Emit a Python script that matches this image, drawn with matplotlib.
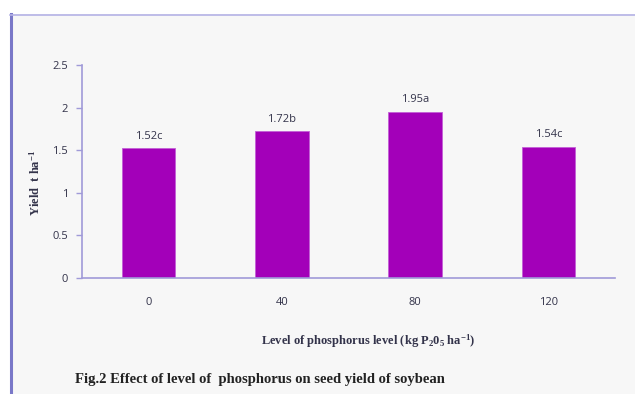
import matplotlib.pyplot as plt
from matplotlib.lines import Line2D
from matplotlib.patches import Rectangle

plt.rcParams["mathtext.fontset"] = "custom"
plt.rcParams["mathtext.rm"] = "Liberation Serif:bold"
plt.rcParams["mathtext.it"] = "Liberation Serif:bold"
plt.rcParams["mathtext.bf"] = "Liberation Serif:bold"

LEVELS = ["0", "40", "80", "120"]
YIELDS = [1.52, 1.72, 1.95, 1.54]
LETTERS = ["c", "b", "a", "c"]
Y_TICKS = [0, 0.5, 1, 1.5, 2, 2.5]
Y_TICK_LABELS = ["0", "0.5", "1", "1.5", "2", "2.5"]

W, H = 635, 394
BAR_COLOR = "#a300b9"
AXIS_COLOR = "#a09ad8"
TEXT_COLOR = "#33334a"

fig = plt.figure(figsize=(W / 100, H / 100), dpi=100)
fig.patch.set_facecolor("white")

# grey panel with purple left/top border
fig.add_artist(Rectangle((10 / W, 0), 1 - 10 / W, 1 - 14 / H,
                         transform=fig.transFigure, facecolor="#f7f7f7",
                         edgecolor="none", zorder=0))
fig.add_artist(Line2D([10.5 / W, 10.5 / W], [0, 1 - 14 / H],
                      transform=fig.transFigure, color="#7a78c8", lw=2.2))
fig.add_artist(Line2D([10 / W, 1], [1 - 14.5 / H, 1 - 14.5 / H],
                      transform=fig.transFigure, color="#b4b2e6", lw=1.2))

ax = fig.add_axes([82 / W, 1 - 278 / H, (615 - 82) / W, (278 - 65) / H])
ax.set_facecolor("none")

x = range(len(LEVELS))
bars = ax.bar(x, YIELDS, width=0.4, color=BAR_COLOR, edgecolor="#c35fd6",
              linewidth=0.6)
for bar, val, letter in zip(bars, YIELDS, LETTERS):
    ax.annotate(f"{val:.2f}{letter}",
                xy=(bar.get_x() + bar.get_width() / 2, val),
                xytext=(0, 5), textcoords="offset points",
                ha="center", va="bottom", fontsize=8,
                family="Open Sans", color=TEXT_COLOR)

ax.set_xlim(-0.5, len(LEVELS) - 0.5)
ax.set_ylim(0, 2.5)
ax.set_yticks(Y_TICKS)
ax.set_yticklabels(Y_TICK_LABELS, family="Open Sans", fontsize=8,
                   color=TEXT_COLOR)
ax.set_xticks(list(x))
ax.set_xticklabels(LEVELS, family="Open Sans", fontsize=8, color=TEXT_COLOR)
ax.tick_params(axis="x", length=0, pad=14)
ax.tick_params(axis="y", length=4, color=AXIS_COLOR, width=1, pad=6)

for side in ["top", "right"]:
    ax.spines[side].set_visible(False)
ax.spines["left"].set_color(AXIS_COLOR)
ax.spines["bottom"].set_color(AXIS_COLOR)
ax.spines["left"].set_linewidth(1.2)
ax.spines["bottom"].set_linewidth(1.2)

fig.text(35 / W, 1 - 183 / H, r"Yield  t ha$^{-1}$", rotation=90,
         ha="center", va="center", fontsize=9, fontweight="bold",
         family="Liberation Serif", color=TEXT_COLOR)
fig.text(368 / W, 1 - 341 / H,
         r"Level of phosphorus level (kg P$_{2}$0$_{5}$ ha$^{-1}$)",
         ha="center", va="center", fontsize=9, fontweight="bold",
         family="Liberation Serif", color=TEXT_COLOR)
fig.text(75 / W, 1 - 380 / H,
         "Fig.2 Effect of level of  phosphorus on seed yield of soybean",
         ha="left", va="center", fontsize=10.5, fontweight="bold",
         family="Liberation Serif", color="#222222")

fig.savefig("out.png", dpi=100, facecolor=fig.get_facecolor())
